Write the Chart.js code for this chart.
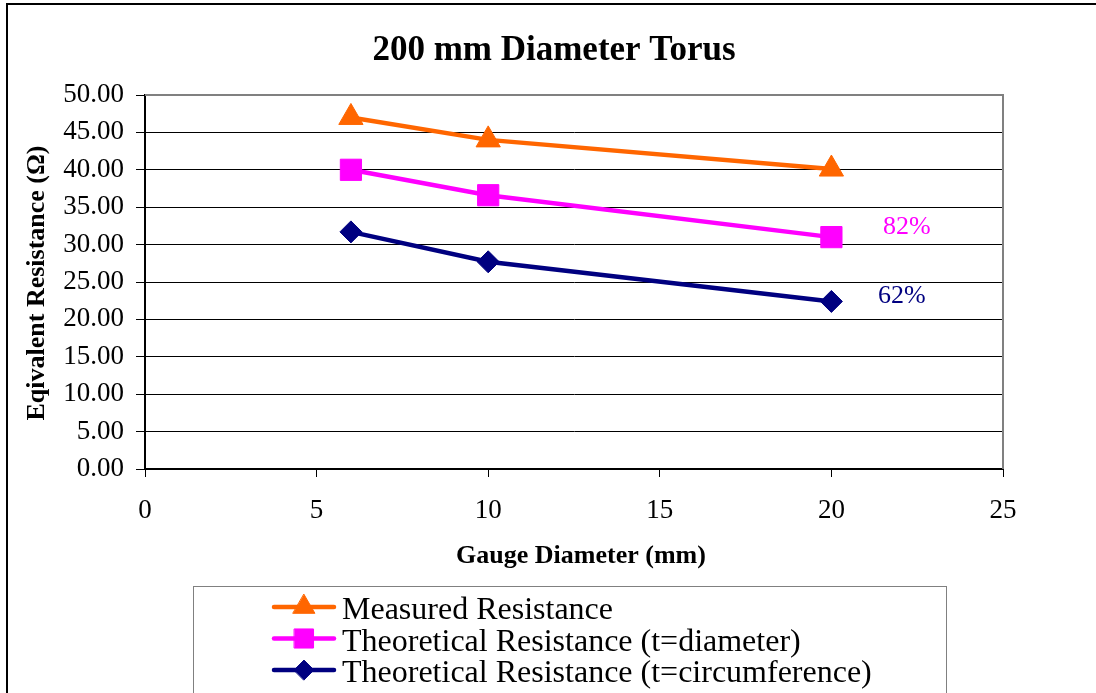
<!DOCTYPE html>
<html><head><meta charset="utf-8">
<script src="https://cdn.jsdelivr.net/npm/chart.js@4.4.1/dist/chart.umd.min.js"></script>
<style>html,body{margin:0;padding:0;background:#fff;overflow:hidden}canvas{display:block}</style>
</head><body>
<canvas id="c" width="1096" height="693"></canvas>
<script>
const chartTitle = '200 mm Diameter Torus';
const xAxisTitle = 'Gauge Diameter (mm)';
const yAxisTitle = 'Eqivalent Resistance (\u03A9)';
const gaugeDiameter = [6, 10, 20];
const measuredResistance = [47.0, 44.0, 40.1];
const theoDiameterResistance = [40.0, 36.6, 31.0];
const theoCircumferenceResistance = [31.7, 27.7, 22.4];
const seriesLabels = ['Measured Resistance', 'Theoretical Resistance (t=diameter)', 'Theoretical Resistance (t=circumference)'];
const seriesColors = ['#FF6600', '#FF00FF', '#000080'];
const seriesMarkers = ['triangle', 'rect', 'rectRot'];
const seriesMarkerRadius = [14, 15, 11];
const annotLabels = ['82%', '62%'];
const annotX = [22.2, 22.05];
const annotY = [32.35, 23.1];
const annotColors = ['#FF00FF', '#000080'];

const FONT = "'Liberation Serif', 'Times New Roman', serif";
Chart.defaults.font.family = FONT;
Chart.defaults.color = '#000';

const seriesValues = [measuredResistance, theoDiameterResistance, theoCircumferenceResistance];
const datasets = seriesValues.map((vals, i) => ({
  label: seriesLabels[i],
  data: gaugeDiameter.map((x, j) => ({ x: x, y: vals[j] })),
  borderColor: seriesColors[i],
  backgroundColor: seriesColors[i],
  borderWidth: 4.5,
  pointStyle: seriesMarkers[i],
  pointRadius: seriesMarkerRadius[i],
  pointHoverRadius: seriesMarkerRadius[i],
  pointBorderWidth: 1,
  pointBackgroundColor: seriesColors[i],
  pointBorderColor: seriesColors[i],
  tension: 0,
  clip: false
}));

const decor = {
  id: 'decor',
  beforeDraw(chart) {
    const ctx = chart.ctx;
    ctx.save();
    ctx.fillStyle = '#fff';
    ctx.fillRect(0, 0, chart.width, chart.height);
    ctx.restore();
  },
  beforeDatasetsDraw(chart) {
    const ctx = chart.ctx, a = chart.chartArea;
    ctx.save();
    ctx.strokeStyle = '#808080';
    ctx.lineWidth = 2;
    ctx.beginPath();
    ctx.moveTo(a.left, a.top);
    ctx.lineTo(a.right, a.top);
    ctx.lineTo(a.right, a.bottom);
    ctx.stroke();
    ctx.restore();
  },
  afterDraw(chart) {
    const ctx = chart.ctx;
    const xs = chart.scales.x, ys = chart.scales.y;
    ctx.save();
    ctx.fillStyle = '#000';
    ctx.fillRect(6, 3, chart.width - 6, 2);
    ctx.fillRect(6, 3, 2, chart.height - 3);
    ctx.fillStyle = '#000';
    ctx.textAlign = 'center';
    ctx.textBaseline = 'alphabetic';
    ctx.font = 'bold 35px ' + FONT;
    ctx.fillText(chartTitle, 554, 60);
    ctx.font = 'bold 26px ' + FONT;
    ctx.fillText(xAxisTitle, 581, 563);
    ctx.save();
    ctx.translate(37, 283);
    ctx.rotate(-Math.PI / 2);
    ctx.textBaseline = 'middle';
    ctx.fillText(yAxisTitle, 0, 0);
    ctx.restore();
    ctx.font = '26px ' + FONT;
    ctx.textBaseline = 'middle';
    annotLabels.forEach((t, i) => {
      ctx.fillStyle = annotColors[i];
      ctx.fillText(t, xs.getPixelForValue(annotX[i]), ys.getPixelForValue(annotY[i]));
    });
    ctx.strokeStyle = '#808080';
    ctx.lineWidth = 1;
    ctx.strokeRect(193.5, 586.5, 753, 200);
    const baselines = [619, 650.5, 682];
    ctx.font = '32px ' + FONT;
    ctx.textAlign = 'left';
    ctx.textBaseline = 'alphabetic';
    chart.data.datasets.forEach((ds, i) => {
      const cy = baselines[i] - 12;
      ctx.strokeStyle = ds.borderColor;
      ctx.lineWidth = 4.5;
      ctx.lineCap = 'round';
      ctx.beginPath();
      ctx.moveTo(274, cy);
      ctx.lineTo(334, cy);
      ctx.stroke();
      ctx.fillStyle = ds.borderColor;
      ctx.strokeStyle = ds.borderColor;
      ctx.lineWidth = 1;
      Chart.helpers.drawPoint(ctx, { pointStyle: ds.pointStyle, radius: ds.pointRadius * 0.9, rotation: 0, borderWidth: 1 }, 304, cy);
      ctx.fillStyle = '#000';
      ctx.fillText(ds.label, 342, baselines[i]);
    });
    ctx.restore();
  }
};

new Chart(document.getElementById('c'), {
  type: 'line',
  data: { datasets: datasets },
  options: {
    responsive: false,
    animation: false,
    events: [],
    layout: { padding: { left: 8, top: 95, right: 93, bottom: 174 } },
    plugins: { legend: { display: false }, title: { display: false }, tooltip: { enabled: false } },
    scales: {
      x: {
        type: 'linear', min: 0, max: 25,
        ticks: { stepSize: 5, font: { size: 27 }, color: '#000', padding: 18, maxRotation: 0 },
        grid: { drawOnChartArea: false, drawTicks: true, tickLength: 8, color: '#000', tickColor: '#000', lineWidth: 1 },
        border: { display: true, color: '#000', width: 2 },
        afterFit(s) { s.height = 50; }
      },
      y: {
        type: 'linear', min: 0, max: 50,
        ticks: { stepSize: 5, font: { size: 27 }, color: '#000', padding: 12, callback: v => Number(v).toFixed(2) },
        grid: { drawTicks: true, tickLength: 9, tickColor: '#000', lineWidth: 1,
          color: c => (c.tick && c.tick.value === 50) ? 'rgba(0,0,0,0)' : '#000' },
        border: { display: true, color: '#000', width: 2 },
        afterFit(s) { s.width = 137; }
      }
    }
  },
  plugins: [decor]
});
</script>
</body></html>
